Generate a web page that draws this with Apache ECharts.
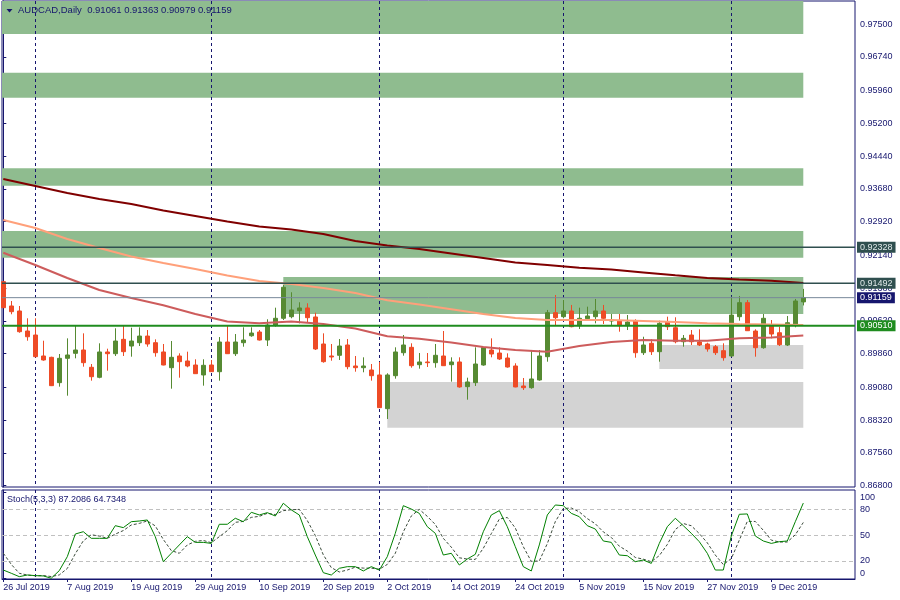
<!DOCTYPE html>
<html><head><meta charset="utf-8">
<script src="https://cdn.jsdelivr.net/npm/echarts@6/dist/echarts.min.js"></script>
<style>html,body{margin:0;padding:0;background:#fff}#c{width:900px;height:600px}</style>
</head><body><div id="c"></div>
<script>
// ---------------- DATA ----------------
const symbolName = 'AUDCAD,Daily';
const firstDate = [2019, 6, 26]; // 26 Jul 2019 (month 0-based)
const open  = [0.91530,0.90966,0.90850,0.90386,0.90293,0.89807,0.89776,0.89189,0.89753,0.89869,
0.89946,0.89545,0.89313,0.89900,0.89860,0.90193,0.90038,0.90115,0.90269,0.90115,
0.89900,0.89536,0.89807,0.89691,0.89598,0.89367,0.89598,0.89443,0.90131,0.89860,
0.90115,0.90276,0.90363,0.90177,0.90525,0.90681,0.90718,0.90857,0.90920,0.90711,
0.90085,0.89807,0.89823,0.90062,0.89575,0.89536,0.89482,0.89367,0.88586,0.89350,
0.89883,0.90008,0.89605,0.89668,0.89652,0.89807,0.89605,0.89668,0.89096,0.89189,
0.89598,0.89946,0.89876,0.89760,0.89575,0.89112,0.89072,0.89251,0.89791,0.90811,
0.90718,0.90850,0.90509,0.90672,0.90718,0.90850,0.90618,0.90625,0.90509,0.90625,
0.89883,0.90101,0.89907,0.90602,0.90463,0.90138,0.90293,0.90131,0.90085,0.90022,
0.89930,0.89807,0.90718,0.91043,0.90386,0.89999,0.90525,0.90346,0.90062,0.90525,0.91061];
const high  = [0.91546,0.91082,0.90966,0.90681,0.90681,0.90161,0.89790,0.89853,0.90216,0.90525,
0.90332,0.89621,0.90101,0.89976,0.90449,0.90525,0.90463,0.90472,0.90409,0.90193,
0.90085,0.90154,0.89869,0.89907,0.89730,0.89730,0.89714,0.90246,0.90525,0.90316,
0.90472,0.90472,0.90409,0.90658,0.90927,0.91453,0.91284,0.91052,0.91029,0.90811,
0.90332,0.90085,0.90200,0.90200,0.89807,0.89776,0.89621,0.89668,0.89406,0.90008,
0.90293,0.90101,0.89876,0.89876,0.90085,0.90386,0.89776,0.89776,0.89304,0.90008,
0.90008,0.90216,0.90008,0.89869,0.89638,0.89297,0.89946,0.89946,0.90874,0.91221,
0.91105,0.90990,0.90927,0.90950,0.91129,0.90990,0.90781,0.90781,0.90757,0.90658,
0.90253,0.90193,0.90625,0.90718,0.90704,0.90293,0.90409,0.90426,0.90115,0.90062,
0.90101,0.91182,0.91198,0.91105,0.90426,0.90781,0.90641,0.90486,0.90734,0.91129,0.91363];
const low   = [0.90920,0.90774,0.90346,0.90161,0.89776,0.89698,0.89110,0.89096,0.88887,0.89753,
0.89559,0.89235,0.89290,0.89466,0.89807,0.89807,0.89791,0.90038,0.90022,0.89791,
0.89591,0.89049,0.89304,0.89545,0.89390,0.89119,0.89436,0.89235,0.89853,0.89807,
0.90022,0.90253,0.90165,0.90038,0.90486,0.90641,0.90681,0.90564,0.90578,0.89946,
0.89652,0.89698,0.89714,0.89499,0.89443,0.89429,0.89235,0.88602,0.88347,0.89281,
0.89814,0.89536,0.89513,0.89552,0.89536,0.89575,0.89212,0.89072,0.88794,0.89112,
0.89582,0.89776,0.89714,0.89536,0.89082,0.89019,0.89049,0.89235,0.89675,0.90525,
0.90681,0.90472,0.90433,0.90641,0.90564,0.90549,0.90525,0.90370,0.90409,0.89767,
0.89830,0.89830,0.89675,0.90409,0.90101,0.90022,0.90062,0.90038,0.89907,0.89830,
0.89698,0.89791,0.90625,0.90386,0.89791,0.89976,0.90216,0.90038,0.90038,0.90472,0.90979];
const close = [0.90927,0.90834,0.90370,0.90253,0.89791,0.89714,0.89119,0.89753,0.89830,0.89946,
0.89652,0.89327,0.89900,0.89860,0.90154,0.89907,0.90154,0.90269,0.90085,0.89883,
0.89598,0.89776,0.89675,0.89575,0.89397,0.89591,0.89443,0.90131,0.89860,0.90131,
0.90177,0.90339,0.90177,0.90525,0.90681,0.91400,0.90874,0.90920,0.90695,0.89969,
0.89675,0.89784,0.90038,0.89559,0.89536,0.89575,0.89350,0.88609,0.89367,0.89900,
0.90062,0.89582,0.89668,0.89652,0.89823,0.89582,0.89668,0.89089,0.89205,0.89621,
0.90003,0.89853,0.89737,0.89552,0.89089,0.89072,0.89274,0.89807,0.90811,0.90695,
0.90850,0.90486,0.90681,0.90734,0.90850,0.90681,0.90641,0.90509,0.90595,0.89883,
0.90062,0.89907,0.90564,0.90486,0.90138,0.90216,0.90138,0.90062,0.89969,0.89883,
0.89767,0.90757,0.91043,0.90393,0.89999,0.90681,0.90316,0.90069,0.90578,0.91082,0.91159];

// moving averages, read every 4th bar
const maBars   = [0,4,8,12,16,20,24,28,32,36,40,44,48,52,56,60,64,68,72,76,80,84,88,92,96,100];
const maSlow   = [0.93910,0.93747,0.93585,0.93446,0.93330,0.93180,0.93052,0.92925,0.92809,0.92739,0.92635,0.92473,0.92368,0.92287,0.92183,0.92079,0.91974,0.91916,0.91854,0.91810,0.91745,0.91678,0.91615,0.91578,0.91552,0.91499];
const maMid    = [0.92959,0.92774,0.92519,0.92310,0.92113,0.91963,0.91824,0.91673,0.91546,0.91476,0.91383,0.91267,0.91098,0.91001,0.90890,0.90781,0.90688,0.90641,0.90641,0.90641,0.90618,0.90595,0.90564,0.90549,0.90537,0.90525];
const maFast   = [0.92201,0.91916,0.91615,0.91337,0.91151,0.90982,0.90781,0.90607,0.90565,0.90607,0.90549,0.90444,0.90264,0.90206,0.90120,0.90015,0.89946,0.89907,0.90039,0.90132,0.90178,0.90162,0.90162,0.90217,0.90236,0.90282];

// stochastic
const stochK = [9.5,5.7,1.8,3.7,3,2.6,0,8.8,25,51.3,54,46.3,46.3,46.3,61,58.7,65.6,66.4,67.6,48.2,
19.2,28.9,38.6,48.2,41.6,41.6,40.4,62.6,62.6,69.6,65.6,76.5,73.4,76.1,72.2,87,79.3,73.4,48.2,26.9,
6.4,3.7,11.5,13.4,13.4,8.4,13.4,9.5,25,52.1,84.2,80.3,75.3,59.8,52.1,26.9,28.9,15.3,22.3,27.7,
54,73.4,78.4,59.8,36.6,13.4,8.4,38.6,73.4,85,84.2,75.3,71.4,61,57.1,43.2,41.6,26.9,26.1,19.2,
21.1,17.2,40.4,59.8,69.6,61,52.1,42.4,28.9,9.5,9.5,49,74.2,74.6,49,43.2,40.4,42.4,43.2,65.6,87.2];
const stochD = [29,16,5.7,3.7,2.8,3.1,1.9,3.8,11.3,28.4,43.4,50.5,48.9,46.3,51.2,55.3,61.8,63.6,66.5,60.7,
45,32.1,28.9,38.6,42.8,43.8,41.2,48.2,55.2,64.9,65.9,70.6,71.8,75.3,73.9,78.4,79.5,79.9,67,49.5,
27.2,12.3,7.2,9.5,12.8,11.7,11.7,10.4,16,28.9,53.8,72.2,79.9,71.8,62.4,46.3,36,23.7,22.2,21.8,
34.7,51.7,68.6,70.5,58.3,36.6,19.5,20.1,40.1,65.7,80.9,81.5,77,69.2,63.2,53.8,47.3,37.2,31.5,24.1,
22.1,19.2,26.2,39.1,56.6,63.5,60.9,51.8,41.1,26.9,15.9,22.7,44.2,65.9,65.9,55.6,44.2,42,42,50.4,64.7];
const stochTitle = 'Stoch(5,3,3)';
const stochLast = ['87.2086','64.7348'];
const stochTicks = [0,20,50,80,100];
const stochLevels = [20,50,80];

// zones (price bounds, bar range)
const greenTop    = [0.98036,0.96374,0.94158,0.92704,0.91638];
const greenBottom = [0.97271,0.95794,0.93754,0.92085,0.90781];
const greenStart  = [-1,-1,-1,-1,35];
const grayTop     = [0.89204,0.90062];
const grayBottom  = [0.88145,0.89506];
const grayStart   = [48,82];
const zoneEnd     = 100;

// horizontal levels
const levelPrices = [0.92328,0.91492,0.91159,0.90510];

// axis tick labels
const priceTicks = ['0.86800','0.87560','0.88320','0.89080','0.89860','0.90620','0.91380','0.92140','0.92920','0.93680','0.94440','0.95200','0.95960','0.96740','0.97500'];
const dateLabelBars = [0,8,16,24,32,40,48,56,64,72,80,88,96];

// ---------------- BUILD ----------------
const MON = ['Jan','Feb','Mar','Apr','May','Jun','Jul','Aug','Sep','Oct','Nov','Dec'];
const dates = [];
{ const d = new Date(Date.UTC(firstDate[0], firstDate[1], firstDate[2]));
  while (dates.length < open.length) {
    const wd = d.getUTCDay();
    if (wd !== 0 && wd !== 6) dates.push(new Date(d.getTime()));
    d.setUTCDate(d.getUTCDate() + 1);
  } }
const fmtDate = d => d.getUTCDate() + ' ' + MON[d.getUTCMonth()] + ' ' + d.getUTCFullYear();
const monthStarts = [];
for (let i = 1; i < dates.length; i++) if (dates[i].getUTCMonth() !== dates[i-1].getUTCMonth()) monthStarts.push(i);

const FONT = 'Liberation Sans, Arial, sans-serif';
const NAVY = '#16166e';
const XMIN = -0.1625, XMAX = 106.4625;
const candleData = open.map((o, i) => [i, o, close[i], low[i], high[i]]);

const levelStyles = [
  {line:'#2f4f4f', w:1.5, bg:'#2f4f4f', fg:'#dfe8e8'},
  {line:'#2f4f4f', w:1.5, bg:'#2f4f4f', fg:'#dfe8e8'},
  {line:'#778899', w:1,   bg:'#16166e', fg:'#ffffff'},
  {line:'#1f8c1f', w:2,   bg:'#1f8c1f', fg:'#ffffff'}
];

const zoneAreas = [];
greenTop.forEach((t, k) => zoneAreas.push([{xAxis: greenStart[k], yAxis: t, itemStyle:{color:'#8fbc8f'}}, {xAxis: zoneEnd, yAxis: greenBottom[k]}]));
grayTop.forEach((t, k) => zoneAreas.push([{xAxis: grayStart[k], yAxis: t, itemStyle:{color:'#d3d3d3'}}, {xAxis: zoneEnd, yAxis: grayBottom[k]}]));

const sepRender = (params, api) => {
  const p = api.coord([api.value(0), api.value(1)]);
  const cs = params.coordSys;
  const x = Math.round(p[0]) + 0.5;
  return {type:'line', shape:{x1:x, y1:cs.y, x2:x, y2:cs.y + cs.height},
          style:{stroke:NAVY, lineWidth:1, lineDash:[3,3]}};
};

const levelRender = (params, api) => {
  const k = api.value(0);
  const price = api.value(1);
  const y = api.coord([0, price])[1];
  const cs = params.coordSys;
  const st = levelStyles[k];
  return {type:'group', children:[
    {type:'line', shape:{x1:cs.x, y1:y, x2:cs.x + cs.width, y2:y},
     style:{stroke:st.line, lineWidth:st.w}},
    {type:'text', x:cs.x + cs.width + 2, y:y,
     style:{text:price.toFixed(5), fill:st.fg, backgroundColor:st.bg, padding:[1,3,0,3],
            font:'9px ' + FONT, align:'left', verticalAlign:'middle', lineHeight:10}}
  ]};
};

const chart = echarts.init(document.getElementById('c'), null, {renderer:'canvas'});
chart.setOption({
  animation: false,
  backgroundColor: '#ffffff',
  textStyle: {fontFamily: FONT},
  grid: [
    {left:2, right:45, top:1, height:486, show:true, borderColor:NAVY, borderWidth:1, backgroundColor:'#fff'},
    {left:2, right:45, top:490, height:89, show:true, borderColor:NAVY, borderWidth:1, backgroundColor:'#fff'}
  ],
  xAxis: [
    {type:'value', gridIndex:0, min:XMIN, max:XMAX, axisLine:{show:false}, axisTick:{show:false}, axisLabel:{show:false}, splitLine:{show:false}},
    {type:'value', gridIndex:1, min:XMIN, max:XMAX, splitLine:{show:false},
     axisLine:{show:true, onZero:false, lineStyle:{color:NAVY, width:1}},
     axisTick:{show:true, length:3, customValues: dateLabelBars, lineStyle:{color:NAVY}},
     axisLabel:{show:true, customValues: dateLabelBars, align:'left', margin:4, color:NAVY, fontSize:9, fontFamily:FONT,
       formatter: v => fmtDate(dates[Math.round(v)])}}
  ],
  yAxis: [
    {type:'value', gridIndex:0, position:'right', min:0.86770, max:0.98036, splitLine:{show:false},
     axisLine:{show:true, lineStyle:{color:NAVY, width:1}},
     axisTick:{show:true, length:3, customValues: priceTicks.map(Number), lineStyle:{color:NAVY}},
     axisLabel:{show:true, customValues: priceTicks.map(Number), margin:5, color:NAVY, fontSize:9, fontFamily:FONT,
       formatter: v => v.toFixed(5)}},
    {type:'value', gridIndex:1, position:'right', min:-0.93, max:102.4, splitLine:{show:false},
     axisLine:{show:true, lineStyle:{color:NAVY, width:1}},
     axisTick:{show:true, length:3, customValues: stochTicks, lineStyle:{color:NAVY}},
     axisLabel:{show:true, customValues: stochTicks, margin:5, color:NAVY, fontSize:9, fontFamily:FONT,
       formatter: v => v >= 100 ? '{hi|' + Math.round(v) + '}' : (v <= 0 ? '{lo|' + Math.round(v) + '}' : String(Math.round(v))),
       rich:{hi:{padding:[10,0,0,0], color:NAVY, fontSize:9, fontFamily:FONT}, lo:{padding:[0,0,10,0], color:NAVY, fontSize:9, fontFamily:FONT}}}}
  ],
  series: [
    {type:'custom', name:'sepMain', xAxisIndex:0, yAxisIndex:0, z:2, silent:true, clip:true,
     data: monthStarts.map(i => [i, 0.9]), renderItem: sepRender},
    {type:'candlestick', name:'price', xAxisIndex:0, yAxisIndex:0, z:3, barWidth:5, clip:true,
     data: candleData,
     itemStyle:{color:'#568a32', color0:'#ee4b26', borderColor:'#568a32', borderColor0:'#ee4b26', borderWidth:1},
     markArea:{silent:true, z:1, data: zoneAreas}},
    {type:'line', name:'maSlow', xAxisIndex:0, yAxisIndex:0, z:4, showSymbol:false, silent:true,
     data: maBars.map((b, k) => [b, maSlow[k]]), lineStyle:{color:'#800000', width:2}},
    {type:'line', name:'maMid', xAxisIndex:0, yAxisIndex:0, z:4, showSymbol:false, silent:true,
     data: maBars.map((b, k) => [b, maMid[k]]), lineStyle:{color:'#ffa07a', width:2}},
    {type:'line', name:'maFast', xAxisIndex:0, yAxisIndex:0, z:4, showSymbol:false, silent:true,
     data: maBars.map((b, k) => [b, maFast[k]]), lineStyle:{color:'#cd5c5c', width:2}},
    {type:'custom', name:'levels', xAxisIndex:0, yAxisIndex:0, z:6, silent:true, clip:false,
     data: levelPrices.map((p, k) => [k, p]), renderItem: levelRender},
    {type:'custom', name:'sepStoch', xAxisIndex:1, yAxisIndex:1, z:2, silent:true, clip:true,
     data: monthStarts.map(i => [i, 50]), renderItem: sepRender},
    {type:'line', name:'stochD', xAxisIndex:1, yAxisIndex:1, z:3, showSymbol:false, silent:true,
     data: stochD.map((v, i) => [i, v]), lineStyle:{color:'#3c4c3c', width:1, type:[3,2]}},
    {type:'line', name:'stochK', xAxisIndex:1, yAxisIndex:1, z:4, showSymbol:false, silent:true,
     data: stochK.map((v, i) => [i, v]), lineStyle:{color:'#008000', width:1},
     markLine:{silent:true, symbol:'none', z:1, label:{show:false},
       lineStyle:{color:'#c0c0c0', width:1, type:[4,3]},
       data: stochLevels.map(v => ({yAxis:v}))}}
  ],
  graphic: [
    {type:'polygon', shape:{points:[[6.5,9],[12.5,9],[9.5,12.5]]}, style:{fill:NAVY}, z:10},
    {type:'text', left:18, top:5, z:10,
     style:{text: symbolName + '  ' + [open, high, low, close].map(a => a[a.length-1].toFixed(5)).join(' '),
            fill:NAVY, font:'9.5px ' + FONT}},
    {type:'text', left:7, top:495, z:10,
     style:{text: stochTitle + ' ' + stochLast.join(' '), fill:NAVY, font:'9px ' + FONT}}
  ]
});
</script>
</body></html>
